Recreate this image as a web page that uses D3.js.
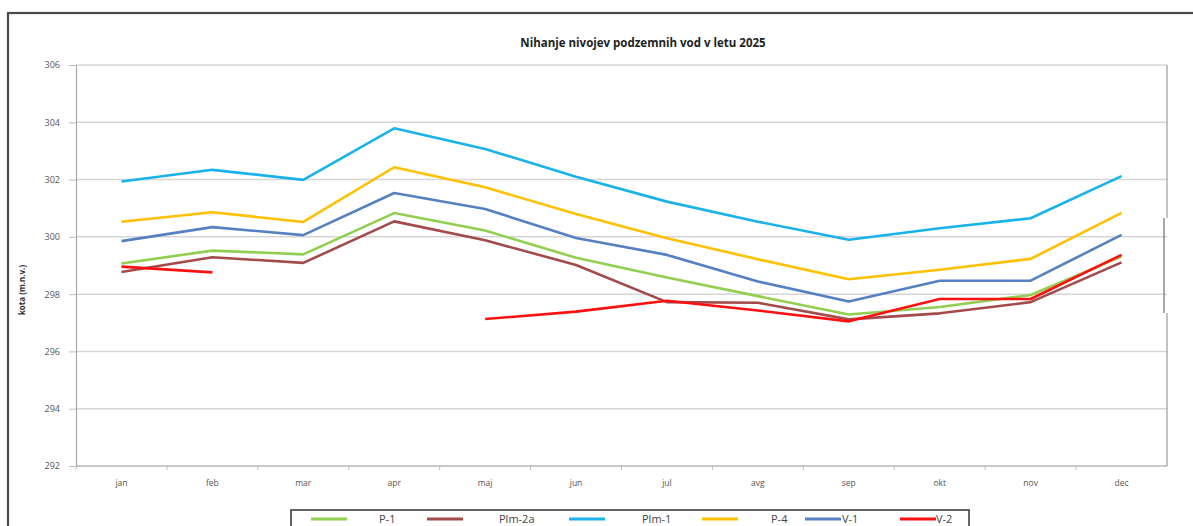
<!DOCTYPE html>
<html>
<head>
<meta charset="utf-8">
<script src="https://cdn.jsdelivr.net/npm/d3@7"></script>
<style>
  body { margin: 0; background: #fff; }
  svg { display: block; }
</style>
</head>
<body>
<div id="chart"></div>
<script>
// Categories and tick labels
var months = ["jan", "feb", "mar", "apr", "maj", "jun", "jul", "avg", "sep", "okt", "nov", "dec"];
var yTicks = [292, 294, 296, 298, 300, 302, 304, 306];

// Series values (m.n.v.)
var p1    = [299.07, 299.52, 299.39, 300.83, 300.22, 299.27, 298.58, 297.93, 297.29, 297.55, 297.97, 299.31];
var plm2a = [298.77, 299.29, 299.09, 300.54, 299.88, 299.02, 297.72, 297.70, 297.12, 297.33, 297.72, 299.11];
var plm1  = [301.93, 302.34, 301.99, 303.79, 303.07, 302.10, 301.23, 300.53, 299.90, 300.30, 300.65, 302.12];
var p4    = [300.53, 300.86, 300.52, 302.43, 301.73, 300.80, 299.95, 299.22, 298.52, 298.85, 299.23, 300.84];
var v1    = [299.85, 300.34, 300.06, 301.53, 300.97, 299.96, 299.37, 298.44, 297.74, 298.47, 298.47, 300.07];
var v2    = [298.96, 298.76, null, null, 297.13, 297.39, 297.77, 297.43, 297.05, 297.83, 297.83, 299.37];

var seriesNames = ["P-1", "Plm-2a", "Plm-1", "P-4", "V-1", "V-2"];
var seriesColors = ["#92cf50", "#a34b4c", "#1ab2ea", "#ffc000", "#5680c2", "#ff1010"];
var seriesValues = [p1, plm2a, plm1, p4, v1, v2];

var w = 1193;
var h = 526;

// plot area
var plotLeft = 76, plotRight = 1167, plotTop = 65, plotBottom = 466;

var svg = d3
  .select("#chart")
  .append("svg")
  .attr("width", w)
  .attr("height", h);

// outer frame
svg
  .append("rect")
  .attr("x", 8)
  .attr("y", 13)
  .attr("width", 1300)
  .attr("height", 700)
  .attr("fill", "none")
  .attr("stroke", "#4a4a4a")
  .attr("stroke-width", 2.2);

var xScale = d3.scalePoint().domain(months).range([plotLeft, plotRight]).padding(0.5);
var yScale = d3.scaleLinear().domain([292, 306]).range([plotBottom, plotTop]);

// gridlines
svg
  .append("g")
  .selectAll("line")
  .data(yTicks)
  .enter()
  .append("line")
  .attr("x1", plotLeft)
  .attr("x2", plotRight)
  .attr("y1", function (d) { return yScale(d); })
  .attr("y2", function (d) { return yScale(d); })
  .attr("stroke", "#d6d6d6")
  .attr("stroke-width", 1.5);

// y axis
var yAxis = d3.axisLeft(yScale).tickValues(yTicks).tickSize(7).tickPadding(9);
var gy = svg
  .append("g")
  .attr("transform", "translate(" + plotLeft + ",0)")
  .call(yAxis);
gy.select(".domain").attr("stroke", "#a8a8a8").attr("stroke-width", 1.2);
gy.selectAll(".tick line").attr("stroke", "#bdbdbd");
gy.selectAll(".tick text")
  .attr("fill", "#555")
  .style("font-family", "'Open Sans', sans-serif")
  .style("font-size", "9px");

// x axis, ticks at band edges
var step = xScale.step();
var gx = svg.append("g").attr("transform", "translate(0," + plotBottom + ")");
gx.append("line")
  .attr("x1", plotLeft).attr("x2", plotRight)
  .attr("stroke", "#b0b0b0").attr("stroke-width", 1.2);
gx.selectAll(".edge")
  .data(months)
  .enter()
  .append("line")
  .attr("class", "edge")
  .attr("x1", function (d) { return xScale(d) - step / 2; })
  .attr("x2", function (d) { return xScale(d) - step / 2; })
  .attr("y1", 0).attr("y2", 4)
  .attr("stroke", "#bdbdbd");
gx.selectAll("text")
  .data(months)
  .enter()
  .append("text")
  .attr("x", function (d) { return xScale(d); })
  .attr("y", 20)
  .attr("text-anchor", "middle")
  .attr("fill", "#555")
  .style("font-family", "'Open Sans', sans-serif")
  .style("font-size", "8.5px")
  .text(function (d) { return d; });

// right border of plot area (slightly shifted piece like in the scan)
svg.append("line").attr("x1", plotRight).attr("x2", plotRight).attr("y1", plotTop).attr("y2", 218)
  .attr("stroke", "#9a9a9a").attr("stroke-width", 1.2);
svg.append("line").attr("x1", plotRight - 3).attr("x2", plotRight - 3).attr("y1", 218).attr("y2", 313)
  .attr("stroke", "#8a8a8a").attr("stroke-width", 1.5);
svg.append("line").attr("x1", plotRight).attr("x2", plotRight).attr("y1", 313).attr("y2", plotBottom)
  .attr("stroke", "#9a9a9a").attr("stroke-width", 1.2);

// title
svg
  .append("text")
  .attr("x", 643)
  .attr("y", 47)
  .attr("text-anchor", "middle")
  .attr("fill", "#222")
  .style("font-family", "'Open Sans', sans-serif")
  .style("font-weight", "bold")
  .style("font-size", "11.5px")
  .text("Nihanje nivojev podzemnih vod v letu 2025");

// y axis title
svg
  .append("text")
  .attr("transform", "translate(25," + 290 + ") rotate(-90)")
  .attr("text-anchor", "middle")
  .attr("fill", "#333")
  .style("font-family", "'Open Sans', sans-serif")
  .style("font-weight", "bold")
  .style("font-size", "8px")
  .text("kota (m.n.v.)");

// lines
var line = d3
  .line()
  .defined(function (d) { return d != null; })
  .x(function (d, i) { return xScale(months[i]); })
  .y(function (d) { return yScale(d); });

seriesValues.forEach(function (vals, k) {
  svg
    .append("path")
    .datum(vals)
    .attr("d", line)
    .attr("fill", "none")
    .attr("stroke", seriesColors[k])
    .attr("stroke-width", 2.6)
    .attr("stroke-linejoin", "round");
});

// legend
var legendX = [311, 427, 569, 702, 805, 900];
var legendTextX = [379, 499, 642, 771, 842, 936];
var legend = svg.append("g");
legend
  .append("rect")
  .attr("x", 291)
  .attr("y", 510)
  .attr("width", 678)
  .attr("height", 40)
  .attr("fill", "#fff")
  .attr("stroke", "#333")
  .attr("stroke-width", 1.5);
seriesNames.forEach(function (name, k) {
  legend
    .append("line")
    .attr("x1", legendX[k])
    .attr("x2", legendX[k] + 36)
    .attr("y1", 519)
    .attr("y2", 519)
    .attr("stroke", seriesColors[k])
    .attr("stroke-width", 3);
  legend
    .append("text")
    .attr("x", legendTextX[k])
    .attr("y", 523)
    .attr("fill", "#444")
    .style("font-family", "'Open Sans', sans-serif")
    .style("font-size", "11px")
    .text(name);
});
</script>
</body>
</html>
